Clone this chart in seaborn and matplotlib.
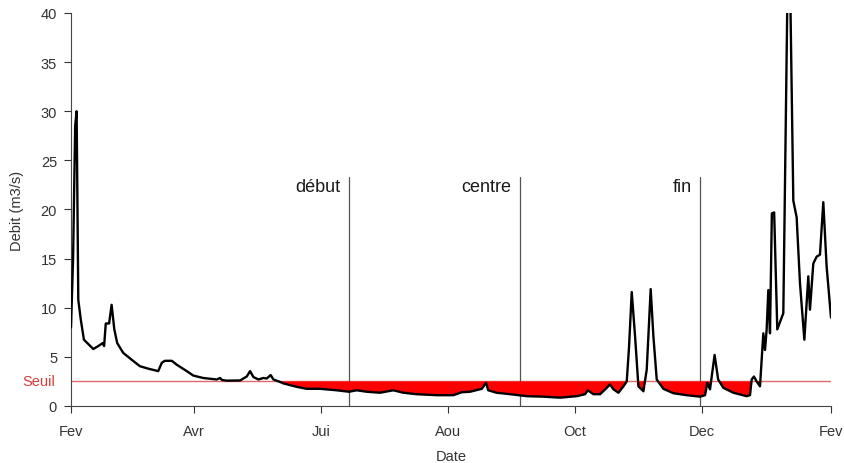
import matplotlib
matplotlib.use("Agg")
import matplotlib.pyplot as plt
import seaborn as sns
import pandas as pd
import numpy as np

# ---- data (day offsets from 1 Feb, discharge m3/s) ----
days = [0, 1, 2, 2.7, 3.1, 3.5, 4.7, 6.2, 10.7, 13.1, 15.2, 15.9, 16.7, 18.3, 19.5,
        20.8, 22.2, 25.1, 29.2, 33.1, 37.1, 41.9, 43.6, 45.1, 48.4, 50.8, 55.6, 58.7,
        63.5, 70.0, 71.6, 72.5, 74.8, 81.2, 84.4, 86.0, 87.6, 90.0, 92.4, 94.0, 95.9,
        97.2, 100.4, 102.0, 108.4, 113.2, 119.6, 127.6, 133.5, 137.2, 142.0, 148.4,
        154.8, 159.6, 166.0, 175.6, 183.6, 187.7, 191.6, 197.3, 199.3, 200.4, 204.4,
        210.9, 218.9, 226.9, 234.9, 242.9, 246.9, 248.2, 250.9, 254.1, 257.3, 258.9,
        260.5, 262.9, 265.3, 266.9, 268.0, 269.3, 270.9, 272.5, 274.9, 276.5, 278.4,
        279.7, 281.3, 284.5, 289.3, 295.7, 302.1, 304.5, 305.6, 306.9, 309.1, 310.8,
        313.3, 318.1, 324.5, 326.1, 326.9, 328.0, 329.3, 330.9, 332.5, 333.3, 334.1,
        334.9, 335.7, 336.6, 337.7, 338.4, 339.2, 342.1, 344.2, 345.3, 346.9, 348.5,
        350.1, 352.2, 354.1, 354.9, 356.5, 358.1, 359.7, 361.3, 362.9, 365]
debit = [8.0, 15.0, 28.5, 30.0, 20.0, 10.8, 8.8, 6.75, 5.8, 6.1, 6.4, 6.1, 8.4, 8.4, 10.3,
         7.8, 6.4, 5.4, 4.7, 4.05, 3.8, 3.55, 4.4, 4.6, 4.6, 4.2, 3.55, 3.1,
         2.85, 2.7, 2.85, 2.65, 2.58, 2.6, 3.0, 3.55, 2.95, 2.7, 2.85, 2.8, 3.15,
         2.7, 2.45, 2.3, 1.95, 1.75, 1.75, 1.6, 1.45, 1.6, 1.45, 1.35,
         1.6, 1.35, 1.2, 1.1, 1.1, 1.4, 1.45, 1.75, 2.35, 1.6, 1.35,
         1.2, 1.0, 0.95, 0.85, 1.0, 1.2, 1.6, 1.2, 1.2, 1.85, 2.2,
         1.7, 1.35, 2.0, 2.5, 6.0, 11.6, 7.1, 2.0, 1.5, 3.7, 11.9,
         7.1, 2.7, 1.75, 1.3, 1.1, 0.95, 1.1, 2.35, 1.7, 5.2, 2.7,
         1.85, 1.35, 1.0, 1.1, 2.7, 3.0, 2.5, 2.0, 7.4, 5.7, 7.8,
         11.8, 7.4, 19.6, 19.7, 14.2, 7.8, 9.45, 44.0, 44.0, 20.9, 19.2,
         12.5, 6.75, 13.2, 9.8, 14.5, 15.2, 15.4, 20.75, 14.2, 9.0]
seuil = 2.5
events = ["début", "centre", "fin"]
event_days = [133.5, 215.5, 302.1]
tick_days = [0, 59, 120, 181, 242, 303, 365]
tick_labels = ["Fev", "Avr", "Jui", "Aou", "Oct", "Dec", "Fev"]

start = pd.Timestamp("2018-02-01")
df = pd.DataFrame({"date": start + pd.to_timedelta(days, unit="D"), "debit": debit})

sns.set_theme(style="ticks")
plt.rcParams["font.family"] = ["Liberation Sans", "DejaVu Sans"]

fig, ax = plt.subplots(figsize=(8.45, 4.64), dpi=100)
fig.subplots_adjust(left=71/845, right=831/845, bottom=1-407/464, top=1-14/464)

y = np.array(debit)
ax.fill_between(df["date"], y, seuil, where=y < seuil, interpolate=True,
                color="#ff0000", linewidth=0, zorder=2)
ax.axhline(seuil, color="#e06a6a", lw=1.0, zorder=1)
sns.lineplot(data=df, x="date", y="debit", color="black", lw=1.7, ax=ax, zorder=3,
             solid_joinstyle="round", solid_capstyle="round")

for name, d in zip(events, event_days):
    xd = start + pd.Timedelta(days=d)
    ax.plot([xd, xd], [0, 23.3], color="#555555", lw=0.9, zorder=1)
    ax.text(xd - pd.Timedelta(days=4), 22.3, name, ha="right", va="center",
            fontsize=13, color="#1a1a1a")

ax.set_xlim(start, start + pd.Timedelta(days=365))
ax.set_ylim(0, 40)
ax.set_xticks([start + pd.Timedelta(days=d) for d in tick_days])
ax.set_xticklabels(tick_labels)
ax.set_yticks(range(0, 41, 5))
ax.tick_params(axis="both", labelsize=10.5, colors="#333333", length=5, width=0.8)
ax.tick_params(axis="x", pad=8)
ax.tick_params(axis="y", pad=5)
for s in ["top", "right"]:
    ax.spines[s].set_visible(False)
for s in ["left", "bottom"]:
    ax.spines[s].set_color("#444444")
    ax.spines[s].set_linewidth(0.8)

ax.set_xlabel("Date", fontsize=10.5, color="#333333", labelpad=8)
ax.set_ylabel("Debit (m3/s)", fontsize=10.5, color="#333333", labelpad=12)
ax.text(-0.021, seuil, "Seuil", transform=ax.get_yaxis_transform(), ha="right",
        va="center", fontsize=10.5, color="#d83a3a")

fig.savefig("out.png", dpi=100)
